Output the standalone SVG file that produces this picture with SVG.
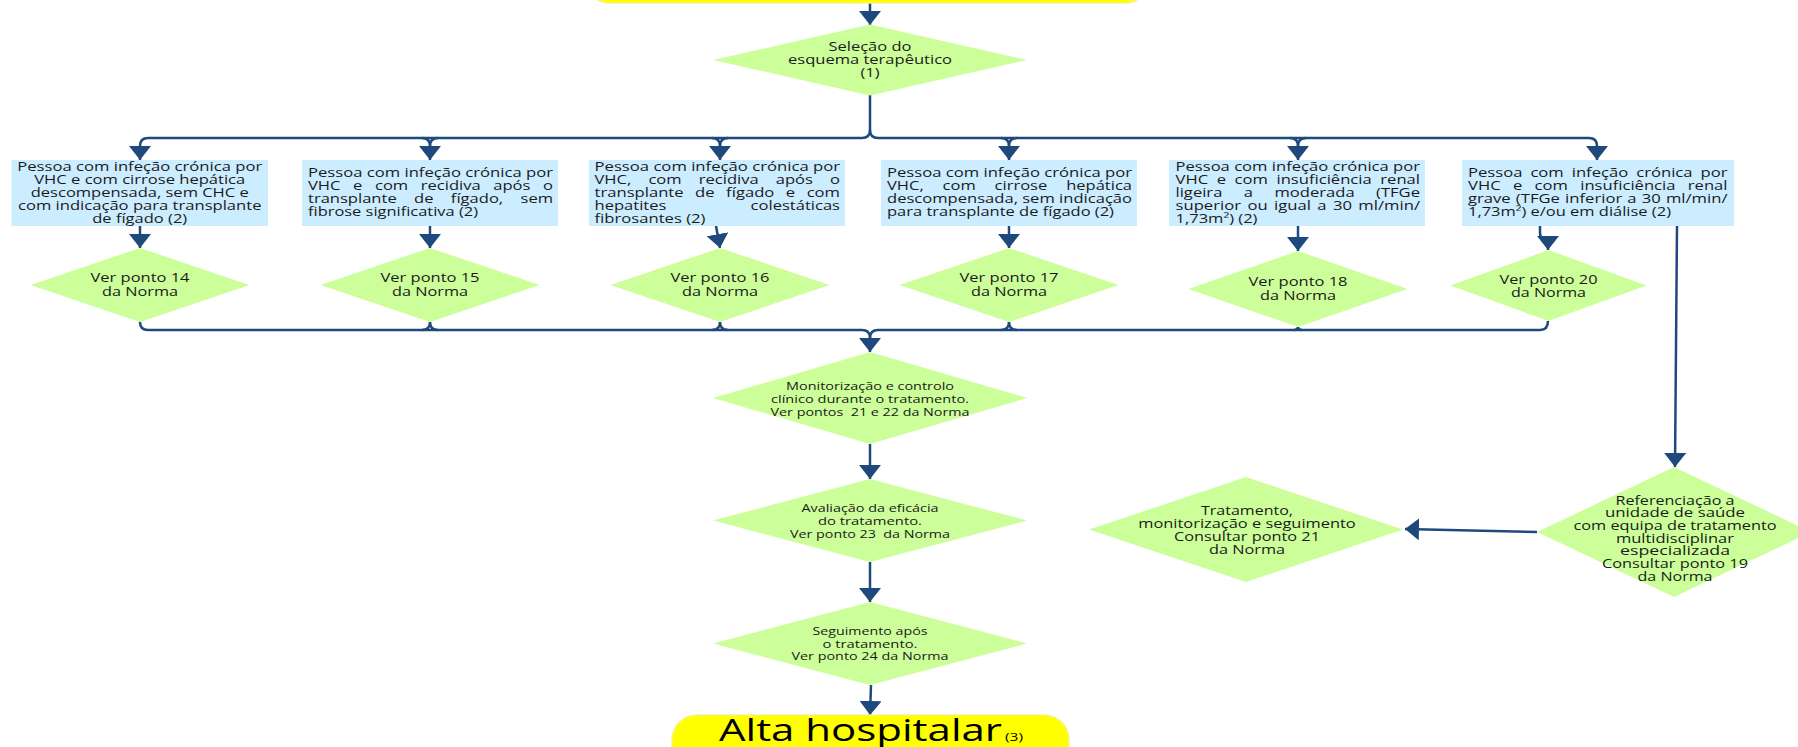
<svg xmlns="http://www.w3.org/2000/svg" width="1798" height="747" viewBox="0 0 1798 747">
<style>
.dm{fill:#CCFF99}
.bx{fill:#CCECFF}
.pill{fill:#FFFF00;stroke:#F4F48A;stroke-width:1.5}
.t{font-family:"Open Sans","Liberation Sans",sans-serif;font-size:12px;fill:#1a1a1a}
.c{text-anchor:middle}
.s{font-size:11px}
.ln{fill:none;stroke:#1F497D;stroke-width:2.5}
.ar{marker-end:url(#ah)}
</style>
<defs>
<marker id="ah" markerUnits="userSpaceOnUse" viewBox="0 0 14 22" refX="14" refY="11" markerWidth="14" markerHeight="22" orient="auto">
<path d="M0,0 L14,11 L0,22 Z" fill="#1F497D"/>
</marker>
</defs>
<rect width="1798" height="747" fill="#FFFFFF"/>

<g id="connectors">
<path class="ln ar" d="M870,3 V25"/>
<path class="ln" d="M870,95 V130 Q870,138 862,138 H148"/>
<path class="ln" d="M870,130 Q870,138 878,138 H1589"/>
<path class="ln ar" d="M148,138 Q140,138 140,146 V160"/>
<path class="ln ar" d="M422,138 Q430,138 430,146 V160"/>
<path class="ln" d="M438,138 Q430,138 430,146"/>
<path class="ln ar" d="M712,138 Q720,138 720,146 V160"/>
<path class="ln" d="M728,138 Q720,138 720,146"/>
<path class="ln ar" d="M1001,138 Q1009,138 1009,146 V160"/>
<path class="ln" d="M1017,138 Q1009,138 1009,146"/>
<path class="ln ar" d="M1290,138 Q1298,138 1298,146 V160"/>
<path class="ln" d="M1306,138 Q1298,138 1298,146"/>
<path class="ln ar" d="M1589,138 Q1597,138 1597,146 V160"/>

<path class="ln ar" d="M140,226 V248"/>
<path class="ln ar" d="M430,226 V248"/>
<path class="ln ar" d="M716,226 L720,248"/>
<path class="ln ar" d="M1009,226 V248"/>
<path class="ln ar" d="M1298,226 V251"/>
<path class="ln ar" d="M1540,226 V233 Q1540,238 1544,238 Q1548,238 1548,243 V250"/>

<path class="ln ar" d="M140,322 Q140,330 148,330 H862 Q870,330 870,338 V352"/>
<path class="ln" d="M430,322 Q430,330 438,330"/>
<path class="ln" d="M430,322 Q430,330 422,330"/>
<path class="ln" d="M720,322 Q720,330 728,330"/>
<path class="ln" d="M720,322 Q720,330 712,330"/>
<path class="ln" d="M1548,321 Q1548,330 1540,330 H878 Q870,330 870,338"/>
<path class="ln" d="M1009,322 Q1009,330 1001,330"/>
<path class="ln" d="M1009,322 Q1009,330 1017,330"/>
<path class="ln" d="M1298,327 Q1298,330 1294,330"/>
<path class="ln" d="M1298,327 Q1298,330 1302,330"/>

<path class="ln ar" d="M870,444 V479"/>
<path class="ln ar" d="M870,562 V602"/>
<path class="ln ar" d="M871,685 L870,715"/>
<path class="ln ar" d="M1677,226 L1675,467"/>
<path class="ln ar" d="M1537,532 L1405,529"/>
</g>

<g id="inicio">
<rect class="pill" x="585" y="-50" width="565" height="53" rx="25"/>
</g>

<g id="selecao">
<polygon class="dm" points="713,60 870,24.5 1027,60 870,95.5"/>
<text class="t c" x="870" y="50.5" textLength="83" lengthAdjust="spacingAndGlyphs">Seleção do</text>
<text class="t c" x="870" y="63.5" textLength="164" lengthAdjust="spacingAndGlyphs">esquema terapêutico</text>
<text class="t c" x="870" y="76.5" textLength="19" lengthAdjust="spacingAndGlyphs">(1)</text>
</g>

<g id="caso1">
<rect class="bx" x="11.5" y="160" width="256.5" height="66"/>
<text class="t c" x="139.75" y="170.5" textLength="245" lengthAdjust="spacingAndGlyphs">Pessoa com infeção crónica por</text>
<text class="t c" x="139.75" y="183.7" textLength="211" lengthAdjust="spacingAndGlyphs">VHC e com cirrose hepática</text>
<text class="t c" x="139.75" y="196.9" textLength="218" lengthAdjust="spacingAndGlyphs">descompensada, sem CHC e</text>
<text class="t c" x="139.75" y="210.1" textLength="243.5" lengthAdjust="spacingAndGlyphs">com indicação para transplante</text>
<text class="t c" x="139.75" y="223" textLength="95" lengthAdjust="spacingAndGlyphs">de fígado (2)</text>
</g>

<g id="caso2">
<rect class="bx" x="302" y="160" width="256" height="66"/>
<text class="t" x="308" y="176.5" textLength="245" lengthAdjust="spacingAndGlyphs">Pessoa com infeção crónica por</text>
<text class="t" x="308" y="189.7" textLength="245" lengthAdjust="spacingAndGlyphs" word-spacing="6">VHC e com recidiva após o</text>
<text class="t" x="308" y="202.9" textLength="245" lengthAdjust="spacingAndGlyphs" word-spacing="9.5">transplante de fígado, sem</text>
<text class="t" x="308" y="216.1" textLength="170" lengthAdjust="spacingAndGlyphs">fibrose significativa (2)</text>
</g>

<g id="caso3">
<rect class="bx" x="589" y="160" width="256" height="66"/>
<text class="t" x="594.5" y="170.5" textLength="245.5" lengthAdjust="spacingAndGlyphs">Pessoa com infeção crónica por</text>
<text class="t" x="594.5" y="183.7" textLength="245.5" lengthAdjust="spacingAndGlyphs" word-spacing="9.3">VHC, com recidiva após o</text>
<text class="t" x="594.5" y="196.9" textLength="245.5" lengthAdjust="spacingAndGlyphs" word-spacing="5.2">transplante de fígado e com</text>
<text class="t" x="594.5" y="210.1" textLength="245.5" lengthAdjust="spacingAndGlyphs" word-spacing="58">hepatites colestáticas</text>
<text class="t" x="594.5" y="223" textLength="111" lengthAdjust="spacingAndGlyphs">fibrosantes (2)</text>
</g>

<g id="caso4">
<rect class="bx" x="881" y="160" width="256" height="66"/>
<text class="t" x="887" y="176.5" textLength="245" lengthAdjust="spacingAndGlyphs">Pessoa com infeção crónica por</text>
<text class="t" x="887" y="189.7" textLength="245" lengthAdjust="spacingAndGlyphs" word-spacing="10.6">VHC, com cirrose hepática</text>
<text class="t" x="887" y="202.9" textLength="245" lengthAdjust="spacingAndGlyphs">descompensada, sem indicação</text>
<text class="t" x="887" y="216.1" textLength="227" lengthAdjust="spacingAndGlyphs">para transplante de fígado (2)</text>
</g>

<g id="caso5">
<rect class="bx" x="1169" y="160" width="256" height="66"/>
<text class="t" x="1175.5" y="170.5" textLength="244.5" lengthAdjust="spacingAndGlyphs">Pessoa com infeção crónica por</text>
<text class="t" x="1175.5" y="183.7" textLength="244.5" lengthAdjust="spacingAndGlyphs" word-spacing="3.1">VHC e com insuficiência renal</text>
<text class="t" x="1175.5" y="196.9" textLength="244.5" lengthAdjust="spacingAndGlyphs" word-spacing="12.4">ligeira a moderada (TFGe</text>
<text class="t" x="1175.5" y="210.1" textLength="244.5" lengthAdjust="spacingAndGlyphs" word-spacing="1.5">superior ou igual a 30 ml/min/</text>
<text class="t" x="1175.5" y="223" textLength="82" lengthAdjust="spacingAndGlyphs">1,73m²) (2)</text>
</g>

<g id="caso6">
<rect class="bx" x="1462" y="160" width="272" height="66"/>
<text class="t" x="1468" y="176.5" textLength="259.5" lengthAdjust="spacingAndGlyphs" word-spacing="2.6">Pessoa com infeção crónica por</text>
<text class="t" x="1468" y="189.7" textLength="259.5" lengthAdjust="spacingAndGlyphs" word-spacing="5.8">VHC e com insuficiência renal</text>
<text class="t" x="1468" y="202.9" textLength="259.5" lengthAdjust="spacingAndGlyphs" word-spacing="0.6">grave (TFGe inferior a 30 ml/min/</text>
<text class="t" x="1468" y="216.1" textLength="203" lengthAdjust="spacingAndGlyphs">1,73m²) e/ou em diálise (2)</text>
</g>

<g id="ponto14">
<polygon class="dm" points="30.5,285 140,248 249.5,285 140,322"/>
<text class="t c" x="140" y="282" textLength="99" lengthAdjust="spacingAndGlyphs">Ver ponto 14</text>
<text class="t c" x="140" y="295.5" textLength="76" lengthAdjust="spacingAndGlyphs">da Norma</text>
</g>
<g id="ponto15">
<polygon class="dm" points="320.5,285 430,248 539.5,285 430,322"/>
<text class="t c" x="430" y="282" textLength="99" lengthAdjust="spacingAndGlyphs">Ver ponto 15</text>
<text class="t c" x="430" y="295.5" textLength="76" lengthAdjust="spacingAndGlyphs">da Norma</text>
</g>
<g id="ponto16">
<polygon class="dm" points="610.5,285 720,248 829.5,285 720,322"/>
<text class="t c" x="720" y="282" textLength="99" lengthAdjust="spacingAndGlyphs">Ver ponto 16</text>
<text class="t c" x="720" y="295.5" textLength="76" lengthAdjust="spacingAndGlyphs">da Norma</text>
</g>
<g id="ponto17">
<polygon class="dm" points="899.5,285 1009,248 1118.5,285 1009,322"/>
<text class="t c" x="1009" y="282" textLength="99" lengthAdjust="spacingAndGlyphs">Ver ponto 17</text>
<text class="t c" x="1009" y="295.5" textLength="76" lengthAdjust="spacingAndGlyphs">da Norma</text>
</g>
<g id="ponto18">
<polygon class="dm" points="1188.5,289 1298,251 1407.5,289 1298,327"/>
<text class="t c" x="1298" y="286" textLength="99" lengthAdjust="spacingAndGlyphs">Ver ponto 18</text>
<text class="t c" x="1298" y="299.5" textLength="76" lengthAdjust="spacingAndGlyphs">da Norma</text>
</g>
<g id="ponto20">
<polygon class="dm" points="1450.5,285.5 1548.5,250 1646.5,285.5 1548.5,321"/>
<text class="t c" x="1548.5" y="283.5" textLength="98" lengthAdjust="spacingAndGlyphs">Ver ponto 20</text>
<text class="t c" x="1548.5" y="296.5" textLength="75" lengthAdjust="spacingAndGlyphs">da Norma</text>
</g>

<g id="monitorizacao">
<polygon class="dm" points="713,398 870,352 1027,398 870,444"/>
<text class="t s c" x="870" y="389.5" textLength="168" lengthAdjust="spacingAndGlyphs">Monitorização e controlo</text>
<text class="t s c" x="870" y="403" textLength="198" lengthAdjust="spacingAndGlyphs">clínico durante o tratamento.</text>
<text class="t s c" x="870" y="416" textLength="199" lengthAdjust="spacingAndGlyphs">Ver pontos&#160; 21 e 22 da Norma</text>
</g>

<g id="avaliacao">
<polygon class="dm" points="713,520.5 870,479 1027,520.5 870,562"/>
<text class="t s c" x="870" y="511.5" textLength="137" lengthAdjust="spacingAndGlyphs">Avaliação da eficácia</text>
<text class="t s c" x="870" y="524.5" textLength="104" lengthAdjust="spacingAndGlyphs">do tratamento.</text>
<text class="t s c" x="870" y="537.5" textLength="160" lengthAdjust="spacingAndGlyphs">Ver ponto 23&#160; da Norma</text>
</g>

<g id="seguimento">
<polygon class="dm" points="713,643.5 870,602 1027,643.5 870,685"/>
<text class="t s c" x="870" y="635" textLength="115" lengthAdjust="spacingAndGlyphs">Seguimento após</text>
<text class="t s c" x="870" y="647.5" textLength="95" lengthAdjust="spacingAndGlyphs">o tratamento.</text>
<text class="t s c" x="870" y="660" textLength="157" lengthAdjust="spacingAndGlyphs">Ver ponto 24 da Norma</text>
</g>

<g id="alta">
<rect class="pill" x="672" y="715" width="397" height="60" rx="25"/>
<text class="t" x="719" y="741" textLength="283" lengthAdjust="spacingAndGlyphs" style="font-size:31px;fill:#000">Alta hospitalar</text>
<text class="t" x="1005" y="741" style="font-size:11px;fill:#000" textLength="18" lengthAdjust="spacingAndGlyphs">(3)</text>
</g>

<g id="referenciacao">
<polygon class="dm" points="1537,532 1674,467 1811,532 1674,597"/>
<text class="t c" x="1675" y="504.5" textLength="119" lengthAdjust="spacingAndGlyphs">Referenciação a</text>
<text class="t c" x="1675" y="517.2" textLength="140" lengthAdjust="spacingAndGlyphs">unidade de saúde</text>
<text class="t c" x="1675" y="529.9" textLength="203" lengthAdjust="spacingAndGlyphs">com equipa de tratamento</text>
<text class="t c" x="1675" y="542.6" textLength="118" lengthAdjust="spacingAndGlyphs">multidisciplinar</text>
<text class="t c" x="1675" y="555.3" textLength="110" lengthAdjust="spacingAndGlyphs">especializada</text>
<text class="t c" x="1675" y="568" textLength="146" lengthAdjust="spacingAndGlyphs">Consultar ponto 19</text>
<text class="t c" x="1675" y="580.7" textLength="75" lengthAdjust="spacingAndGlyphs">da Norma</text>
</g>

<g id="tratamento">
<polygon class="dm" points="1089,529.5 1246,477 1403,529.5 1246,582"/>
<text class="t c" x="1247" y="514.5" textLength="92" lengthAdjust="spacingAndGlyphs">Tratamento,</text>
<text class="t c" x="1247" y="527.5" textLength="217.5" lengthAdjust="spacingAndGlyphs">monitorização e seguimento</text>
<text class="t c" x="1247" y="540.5" textLength="146" lengthAdjust="spacingAndGlyphs">Consultar ponto 21</text>
<text class="t c" x="1247" y="553.5" textLength="76" lengthAdjust="spacingAndGlyphs">da Norma</text>
</g>
</svg>
